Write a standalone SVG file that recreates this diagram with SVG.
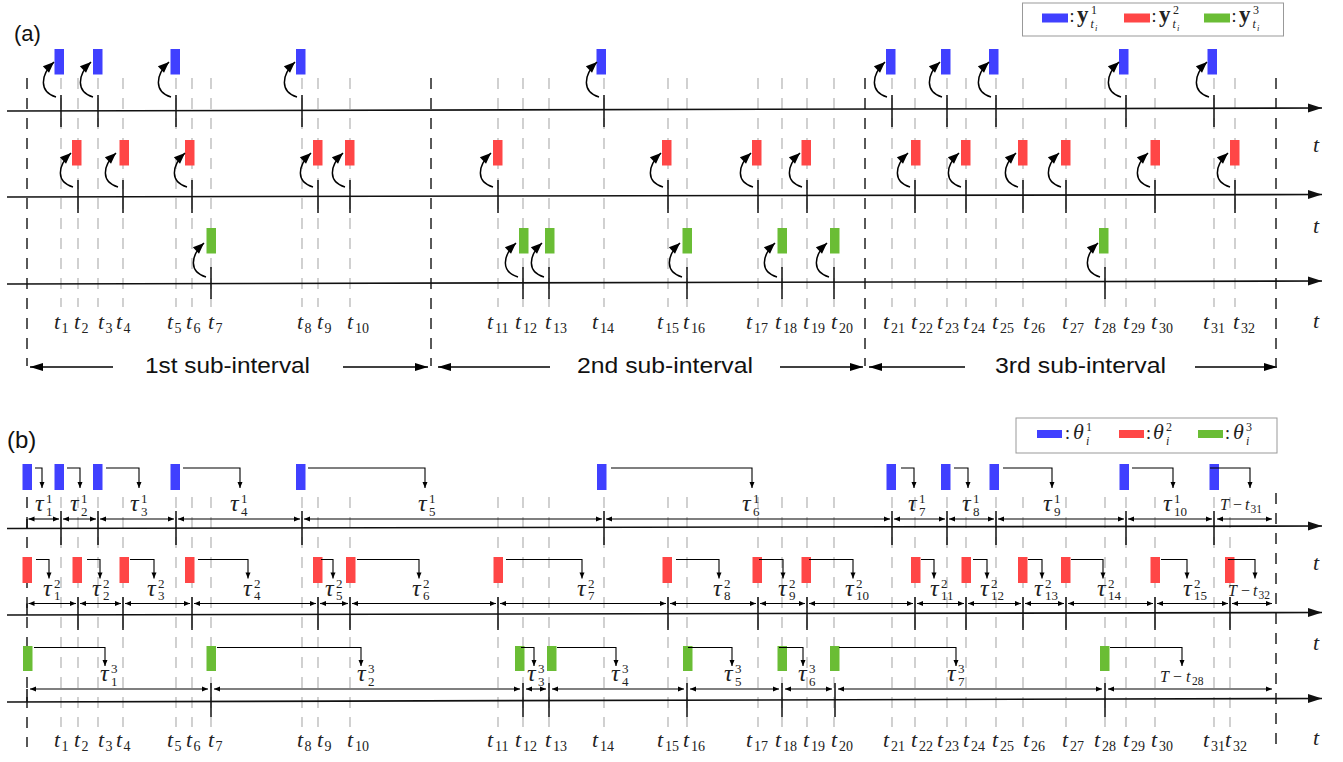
<svg xmlns="http://www.w3.org/2000/svg" width="1343" height="762" viewBox="0 0 1343 762">
<defs>
<style>
.ax{stroke:#111;stroke-width:1.6;fill:none;marker-end:url(#axh)}
.tk{stroke:#111;stroke-width:1.5;fill:none}
.gd{stroke:#b8b8b8;stroke-width:1.3;stroke-dasharray:11 9;fill:none}
.bd{stroke:#222;stroke-width:1.5;stroke-dasharray:11 9;fill:none}
.cv{fill:none;stroke:#000;stroke-width:1.5;marker-end:url(#cvh)}
.da{fill:none;stroke:#000;stroke-width:1.1;marker-end:url(#sm)}
.ia{fill:none;stroke:#000;stroke-width:1.1;marker-start:url(#sm);marker-end:url(#sm)}
.sa{stroke:#000;stroke-width:1.5;marker-end:url(#sah)}
.B{fill:#4040ff}
.R{fill:#ff4646}
.G{fill:#6abd35}
.tm{font-family:"Liberation Serif",serif;font-style:italic;font-size:22px;fill:#222}
.sb{font-style:normal;font-size:14px}
.tau{font-family:"Liberation Serif",serif;font-style:italic;font-size:24px;fill:#222}
.sp{font-style:normal;font-size:13px}
.tt{font-family:"Liberation Serif",serif;font-style:italic;font-size:16px;fill:#222}
.up{font-style:normal}
.s11{font-style:normal;font-size:11.5px}
.sans{font-family:"Liberation Sans",Arial,sans-serif;fill:#111}
.lg{font-family:"Liberation Serif",serif;fill:#222}
</style>
<marker id="axh" markerUnits="userSpaceOnUse" markerWidth="14" markerHeight="9" refX="14" refY="4.5" orient="auto" overflow="visible"><path d="M0,0 L14,4.5 L0,9 z" fill="#111"/></marker>
<marker id="cvh" markerUnits="userSpaceOnUse" markerWidth="12" markerHeight="10" refX="11" refY="5" orient="auto" overflow="visible"><path d="M0,0.5 L11,5 L0,9.5 z" fill="#000"/></marker>
<marker id="sah" markerUnits="userSpaceOnUse" markerWidth="13" markerHeight="8" refX="13" refY="4" orient="auto" overflow="visible"><path d="M0,0 L13,4 L0,8 z" fill="#000"/></marker>
<marker id="sm" markerUnits="userSpaceOnUse" markerWidth="6" markerHeight="5" refX="6" refY="2.5" orient="auto-start-reverse" overflow="visible"><path d="M0,0 L6,2.5 L0,5 z" fill="#000"/></marker>
</defs>
<rect width="1343" height="762" fill="#fff"/>

<g id="grid">
<path class="gd" d="M61,78V307M78,78V307M98,78V307M123,78V307M176,78V307M192,78V307M211,78V307M302,78V307M318,78V307M350,78V307M498,78V307M523,78V307M549,78V307M604,78V307M668,78V307M687,78V307M758,78V307M782,78V307M807,78V307M834,78V307M892,78V307M915,78V307M947,78V307M966,78V307M996,78V307M1023,78V307M1066,78V307M1105,78V307M1126,78V307M1155,78V307M1214,78V307M1235,78V307"/>
<path class="gd" d="M61,497V727M78,497V727M98,497V727M123,497V727M176,497V727M192,497V727M211,497V727M302,497V727M318,497V727M350,497V727M498,497V727M523,497V727M549,497V727M604,497V727M668,497V727M687,497V727M758,497V727M782,497V727M807,497V727M834,497V727M892,497V727M915,497V727M947,497V727M966,497V727M996,497V727M1023,497V727M1066,497V727M1105,497V727M1126,497V727M1155,497V727M1214,497V727M1230,497V727"/>
<path class="bd" d="M27,78V366M431,78V366M865,78V366M1276,78V366M27,497V747M1276,493V745"/>
</g>

<g id="axes">
<line class="ax" x1="7" y1="111" x2="1322" y2="108"/>
<line class="ax" x1="7" y1="197" x2="1322" y2="194.5"/>
<line class="ax" x1="7" y1="284" x2="1322" y2="281"/>
<line class="ax" x1="7" y1="528.5" x2="1322" y2="526"/>
<line class="ax" x1="7" y1="615" x2="1322" y2="612.5"/>
<line class="ax" x1="7" y1="702" x2="1322" y2="698.5"/>
</g>

<g id="ticks">
<path class="tk" d="M61,95V127M98,95V127M176,95V127M302,95V127M604,95V127M892,95V127M947,95V127M996,95V127M1126,95V127M1214,95V127"/>
<path class="tk" d="M78,180V213M123,180V213M192,180V213M318,180V213M350,180V213M498,180V213M668,180V213M758,180V213M807,180V213M915,180V213M966,180V213M1023,180V213M1066,180V213M1155,180V213M1235,180V213"/>
<path class="tk" d="M211,267V299M523,267V299M549,267V299M687,267V299M782,267V299M834,267V299M1105,267V299"/>
<path class="tk" d="M61,511V545M98,511V545M176,511V545M302,511V545M604,511V545M892,511V545M947,511V545M996,511V545M1126,511V545M1214,511V545M27,519V528.5"/>
<path class="tk" d="M78,597V630M123,597V630M192,597V630M318,597V630M350,597V630M498,597V630M668,597V630M758,597V630M807,597V630M915,597V630M966,597V630M1023,597V630M1066,597V630M1155,597V630M1230,597V630M27,603.5V615"/>
<path class="tk" d="M211,683V717M523,683V717M549,683V717M687,683V717M782,683V717M835,683V717M1105,683V717M27,689V702"/>
</g>

<g id="node-a-y1">
<rect class="B" x="54.5" y="49" width="9.5" height="25.5"/><rect class="B" x="93" y="49" width="9.5" height="25.5"/><rect class="B" x="170.5" y="49" width="9.5" height="25.5"/><rect class="B" x="296" y="49" width="9.5" height="25.5"/><rect class="B" x="596.5" y="49" width="9.5" height="25.5"/><rect class="B" x="886" y="49" width="9.5" height="25.5"/><rect class="B" x="941" y="49" width="9.5" height="25.5"/><rect class="B" x="989" y="49" width="9.5" height="25.5"/><rect class="B" x="1119" y="49" width="9.5" height="25.5"/><rect class="B" x="1207.5" y="49" width="9.5" height="25.5"/>
</g>
<g id="node-a-y2">
<rect class="R" x="72" y="140" width="9.5" height="25.5"/><rect class="R" x="119.5" y="140" width="9.5" height="25.5"/><rect class="R" x="185" y="140" width="9.5" height="25.5"/><rect class="R" x="313" y="140" width="9.5" height="25.5"/><rect class="R" x="345" y="140" width="9.5" height="25.5"/><rect class="R" x="493" y="140" width="9.5" height="25.5"/><rect class="R" x="662" y="140" width="9.5" height="25.5"/><rect class="R" x="752" y="140" width="9.5" height="25.5"/><rect class="R" x="801.5" y="140" width="9.5" height="25.5"/><rect class="R" x="911" y="140" width="9.5" height="25.5"/><rect class="R" x="961" y="140" width="9.5" height="25.5"/><rect class="R" x="1018" y="140" width="9.5" height="25.5"/><rect class="R" x="1061" y="140" width="9.5" height="25.5"/><rect class="R" x="1150.5" y="140" width="9.5" height="25.5"/><rect class="R" x="1230" y="140" width="9.5" height="25.5"/>
</g>
<g id="node-a-y3">
<rect class="G" x="206.5" y="228" width="9.5" height="25.5"/><rect class="G" x="519" y="228" width="9.5" height="25.5"/><rect class="G" x="545" y="228" width="9.5" height="25.5"/><rect class="G" x="682.5" y="228" width="9.5" height="25.5"/><rect class="G" x="777.5" y="228" width="9.5" height="25.5"/><rect class="G" x="830" y="228" width="9.5" height="25.5"/><rect class="G" x="1099" y="228" width="9.5" height="25.5"/>
</g>
<g id="node-b-theta1">
<rect class="B" x="22.5" y="464" width="9.5" height="26"/><rect class="B" x="54.5" y="464" width="9.5" height="26"/><rect class="B" x="93" y="464" width="9.5" height="26"/><rect class="B" x="170.5" y="464" width="9.5" height="26"/><rect class="B" x="296" y="464" width="9.5" height="26"/><rect class="B" x="597" y="464" width="9.5" height="26"/><rect class="B" x="886.5" y="464" width="9.5" height="26"/><rect class="B" x="941" y="464" width="9.5" height="26"/><rect class="B" x="989.5" y="464" width="9.5" height="26"/><rect class="B" x="1119.5" y="464" width="9.5" height="26"/><rect class="B" x="1209.5" y="464" width="9.5" height="26"/>
</g>
<g id="node-b-theta2">
<rect class="R" x="22.5" y="557" width="9.5" height="26"/><rect class="R" x="72.5" y="557" width="9.5" height="26"/><rect class="R" x="119.5" y="557" width="9.5" height="26"/><rect class="R" x="185" y="557" width="9.5" height="26"/><rect class="R" x="313" y="557" width="9.5" height="26"/><rect class="R" x="346" y="557" width="9.5" height="26"/><rect class="R" x="493.5" y="557" width="9.5" height="26"/><rect class="R" x="662.5" y="557" width="9.5" height="26"/><rect class="R" x="752.5" y="557" width="9.5" height="26"/><rect class="R" x="801.5" y="557" width="9.5" height="26"/><rect class="R" x="911" y="557" width="9.5" height="26"/><rect class="R" x="961.5" y="557" width="9.5" height="26"/><rect class="R" x="1018" y="557" width="9.5" height="26"/><rect class="R" x="1061" y="557" width="9.5" height="26"/><rect class="R" x="1150.5" y="557" width="9.5" height="26"/><rect class="R" x="1225" y="557" width="9.5" height="26"/>
</g>
<g id="node-b-theta3">
<rect class="G" x="23" y="646" width="9.5" height="25"/><rect class="G" x="206.5" y="646" width="9.5" height="25"/><rect class="G" x="515" y="646" width="9.5" height="25"/><rect class="G" x="547" y="646" width="9.5" height="25"/><rect class="G" x="683" y="646" width="9.5" height="25"/><rect class="G" x="777.5" y="646" width="9.5" height="25"/><rect class="G" x="830" y="646" width="9.5" height="25"/><rect class="G" x="1100" y="646" width="9.5" height="25"/>
</g>

<g id="connectors">
<path class="cv" d="M56,97C39,92 40,75 54,62"/><path class="cv" d="M93,97C76,92 77,75 91,62"/><path class="cv" d="M171,97C154,92 155,75 169,62"/><path class="cv" d="M297,97C280,92 281,75 295,62"/><path class="cv" d="M599,97C582,92 583,75 597,62"/><path class="cv" d="M887,97C870,92 871,75 885,62"/><path class="cv" d="M942,97C925,92 926,75 940,62"/><path class="cv" d="M991,97C974,92 975,75 989,62"/><path class="cv" d="M1121,97C1104,92 1105,75 1119,62"/><path class="cv" d="M1209,97C1192,92 1193,75 1207,62"/>
<path class="cv" d="M73,187C56,182 57,166 71,153"/><path class="cv" d="M118,187C101,182 102,166 116,153"/><path class="cv" d="M187,187C170,182 171,166 185,153"/><path class="cv" d="M313,187C296,182 297,166 311,153"/><path class="cv" d="M345,187C328,182 329,166 343,153"/><path class="cv" d="M493,187C476,182 477,166 491,153"/><path class="cv" d="M663,187C646,182 647,166 661,153"/><path class="cv" d="M753,187C736,182 737,166 751,153"/><path class="cv" d="M802,187C785,182 786,166 800,153"/><path class="cv" d="M910,187C893,182 894,166 908,153"/><path class="cv" d="M961,187C944,182 945,166 959,153"/><path class="cv" d="M1018,187C1001,182 1002,166 1016,153"/><path class="cv" d="M1061,187C1044,182 1045,166 1059,153"/><path class="cv" d="M1150,187C1133,182 1134,166 1148,153"/><path class="cv" d="M1230,187C1213,182 1214,166 1228,153"/>
<path class="cv" d="M206,277C189,272 190,256 204,243"/><path class="cv" d="M518,277C501,272 502,256 516,243"/><path class="cv" d="M544,277C527,272 528,256 542,243"/><path class="cv" d="M682,277C665,272 666,256 680,243"/><path class="cv" d="M777,277C760,272 761,256 775,243"/><path class="cv" d="M829,277C812,272 813,256 827,243"/><path class="cv" d="M1100,277C1083,272 1084,256 1098,243"/>

<line class="sa" x1="113" y1="367" x2="30" y2="367"/><line class="sa" x1="343" y1="367" x2="428" y2="367"/>
<line class="sa" x1="550" y1="367" x2="438" y2="367"/><line class="sa" x1="780" y1="367" x2="863" y2="367"/>
<line class="sa" x1="965" y1="367" x2="869" y2="367"/><line class="sa" x1="1195" y1="367" x2="1277" y2="367"/>

<path class="da" d="M35,468H42V488"/><path class="da" d="M67,468H80V488"/><path class="da" d="M106,468H139V488"/><path class="da" d="M183,468H240V488"/><path class="da" d="M308,468H425V488"/><path class="da" d="M611,468H752V488"/><path class="da" d="M901,468H914V488"/><path class="da" d="M954,468H968V488"/><path class="da" d="M1003,468H1052V488"/><path class="da" d="M1132,468H1173V488"/><path class="da" d="M1210,468H1250V488"/>
<path class="da" d="M36,559.5H49V578.5"/><path class="da" d="M87,559.5H100V578.5"/><path class="da" d="M130,559.5H154V578.5"/><path class="da" d="M198,559.5H248V578.5"/><path class="da" d="M321,559.5H333V578.5"/><path class="da" d="M357,559.5H419V578.5"/><path class="da" d="M506,559.5H582V578.5"/><path class="da" d="M676,559.5H719V578.5"/><path class="da" d="M759,559.5H783V578.5"/><path class="da" d="M809,559.5H853V578.5"/><path class="da" d="M921,559.5H934V578.5"/><path class="da" d="M973,559.5H987V578.5"/><path class="da" d="M1028,559.5H1042V578.5"/><path class="da" d="M1071,559.5H1103V578.5"/><path class="da" d="M1161,559.5H1187V578.5"/><path class="da" d="M1228,559.5H1255V578.5"/>
<path class="da" d="M34,647.5H105V666"/><path class="da" d="M217,647.5H361V666"/><path class="da" d="M521,647.5H534V666"/><path class="da" d="M557,647.5H616V666"/><path class="da" d="M688,647.5H732V666"/><path class="da" d="M779,647.5H803V666"/><path class="da" d="M839,647.5H956V666"/><path class="da" d="M1110,647.5H1182V666"/>

<line class="ia" x1="28.5" y1="519" x2="59" y2="519"/><line class="ia" x1="63" y1="519" x2="96" y2="519"/><line class="ia" x1="100" y1="519" x2="174" y2="519"/><line class="ia" x1="178" y1="519" x2="300" y2="519"/><line class="ia" x1="304" y1="519" x2="602" y2="519"/><line class="ia" x1="606" y1="519" x2="890" y2="519"/><line class="ia" x1="894" y1="519" x2="945" y2="519"/><line class="ia" x1="949" y1="519" x2="994" y2="519"/><line class="ia" x1="998" y1="519" x2="1124" y2="519"/><line class="ia" x1="1128" y1="519" x2="1212" y2="519"/><line class="ia" x1="1217" y1="519" x2="1272" y2="519"/>
<line class="ia" x1="28.5" y1="603.5" x2="76" y2="603.5"/><line class="ia" x1="80" y1="603.5" x2="121" y2="603.5"/><line class="ia" x1="125" y1="603.5" x2="190" y2="603.5"/><line class="ia" x1="194" y1="603.5" x2="316" y2="603.5"/><line class="ia" x1="320" y1="603.5" x2="348" y2="603.5"/><line class="ia" x1="352" y1="603.5" x2="496" y2="603.5"/><line class="ia" x1="500" y1="603.5" x2="666" y2="603.5"/><line class="ia" x1="670" y1="603.5" x2="756" y2="603.5"/><line class="ia" x1="760" y1="603.5" x2="805" y2="603.5"/><line class="ia" x1="809" y1="603.5" x2="913" y2="603.5"/><line class="ia" x1="917" y1="603.5" x2="964" y2="603.5"/><line class="ia" x1="968" y1="603.5" x2="1021" y2="603.5"/><line class="ia" x1="1025" y1="603.5" x2="1064" y2="603.5"/><line class="ia" x1="1068" y1="603.5" x2="1153" y2="603.5"/><line class="ia" x1="1157" y1="603.5" x2="1228" y2="603.5"/><line class="ia" x1="1232" y1="603.5" x2="1272" y2="603.5"/>
<line class="ia" x1="30" y1="689" x2="208" y2="689"/><line class="ia" x1="214" y1="689" x2="520" y2="689"/><line class="ia" x1="526" y1="689" x2="546" y2="689"/><line class="ia" x1="552" y1="689" x2="684" y2="689"/><line class="ia" x1="690" y1="689" x2="779" y2="689"/><line class="ia" x1="785" y1="689" x2="832" y2="689"/><line class="ia" x1="838" y1="689" x2="1102" y2="689"/><line class="ia" x1="1108" y1="689" x2="1272" y2="689"/>
</g>

<g id="legend-a">
<rect x="1022.5" y="3" width="261" height="33" fill="#fff" stroke="#999" stroke-width="1"/>
<rect class="B" x="1042" y="13.5" width="26" height="9"/><rect class="R" x="1124" y="13.5" width="26" height="9"/><rect class="G" x="1204" y="13.5" width="26" height="9"/>
<text class="lg" x="1069.5" y="22" font-size="18">:</text><text class="lg" x="1077" y="22" font-size="23" font-weight="bold">y</text><text class="lg" x="1091" y="14" font-size="12">1</text><text class="lg" x="1090.5" y="28" font-size="12" font-style="italic">t</text><text class="lg" x="1095" y="30.5" font-size="8.5" font-style="italic">i</text>
<text class="lg" x="1151.5" y="22" font-size="18">:</text><text class="lg" x="1159" y="22" font-size="23" font-weight="bold">y</text><text class="lg" x="1173" y="14" font-size="12">2</text><text class="lg" x="1172.5" y="28" font-size="12" font-style="italic">t</text><text class="lg" x="1177" y="30.5" font-size="8.5" font-style="italic">i</text>
<text class="lg" x="1231.5" y="22" font-size="18">:</text><text class="lg" x="1239" y="22" font-size="23" font-weight="bold">y</text><text class="lg" x="1253" y="14" font-size="12">3</text><text class="lg" x="1252.5" y="28" font-size="12" font-style="italic">t</text><text class="lg" x="1257" y="30.5" font-size="8.5" font-style="italic">i</text>
</g>
<g id="legend-b">
<rect x="1016" y="418" width="261" height="35" fill="#fff" stroke="#999" stroke-width="1"/>
<rect class="B" x="1037" y="430" width="25" height="8"/><rect class="R" x="1119" y="430" width="25" height="8"/><rect class="G" x="1198" y="430" width="25" height="8"/>
<text class="lg" x="1065" y="439" font-size="18">:</text><text class="lg" x="1073" y="439" font-size="22" font-style="italic">θ</text><text class="lg" x="1086" y="431" font-size="12">1</text><text class="lg" x="1086" y="445" font-size="12" font-style="italic">i</text>
<text class="lg" x="1146" y="439" font-size="18">:</text><text class="lg" x="1153" y="439" font-size="22" font-style="italic">θ</text><text class="lg" x="1166" y="431" font-size="12">2</text><text class="lg" x="1166" y="445" font-size="12" font-style="italic">i</text>
<text class="lg" x="1225" y="439" font-size="18">:</text><text class="lg" x="1233" y="439" font-size="22" font-style="italic">θ</text><text class="lg" x="1246" y="431" font-size="12">3</text><text class="lg" x="1246" y="445" font-size="12" font-style="italic">i</text>
</g>

<g id="labels">
<text class="sans" x="14" y="40.5" font-size="22">(a)</text>
<text class="sans" x="7" y="448" font-size="24">(b)</text>
<text class="sans" x="145" y="373" font-size="22" textLength="165" lengthAdjust="spacingAndGlyphs">1st sub-interval</text>
<text class="sans" x="577" y="373" font-size="22" textLength="176" lengthAdjust="spacingAndGlyphs">2nd sub-interval</text>
<text class="sans" x="995" y="373" font-size="22" textLength="171" lengthAdjust="spacingAndGlyphs">3rd sub-interval</text>

<text class="tm" x="1313" y="152">t</text><text class="tm" x="1313" y="233">t</text><text class="tm" x="1313" y="328">t</text>
<text class="tm" x="1313" y="570">t</text><text class="tm" x="1313" y="650">t</text><text class="tm" x="1313" y="745">t</text>

<text class="tm" x="54" y="329">t<tspan class="sb" x="61.5" y="333">1</tspan></text>
<text class="tm" x="74" y="329">t<tspan class="sb" x="81.5" y="333">2</tspan></text>
<text class="tm" x="98" y="329">t<tspan class="sb" x="105.5" y="333">3</tspan></text>
<text class="tm" x="116" y="329">t<tspan class="sb" x="123.5" y="333">4</tspan></text>
<text class="tm" x="167" y="329">t<tspan class="sb" x="174.5" y="333">5</tspan></text>
<text class="tm" x="186" y="329">t<tspan class="sb" x="193.5" y="333">6</tspan></text>
<text class="tm" x="208" y="329">t<tspan class="sb" x="215.5" y="333">7</tspan></text>
<text class="tm" x="297" y="329">t<tspan class="sb" x="304.5" y="333">8</tspan></text>
<text class="tm" x="317" y="329">t<tspan class="sb" x="324.5" y="333">9</tspan></text>
<text class="tm" x="347" y="329">t<tspan class="sb" x="355" y="333">10</tspan></text>
<text class="tm" x="487" y="329">t<tspan class="sb" x="495" y="333">11</tspan></text>
<text class="tm" x="515" y="329">t<tspan class="sb" x="523" y="333">12</tspan></text>
<text class="tm" x="545" y="329">t<tspan class="sb" x="553" y="333">13</tspan></text>
<text class="tm" x="592" y="329">t<tspan class="sb" x="600" y="333">14</tspan></text>
<text class="tm" x="657" y="329">t<tspan class="sb" x="665" y="333">15</tspan></text>
<text class="tm" x="683" y="329">t<tspan class="sb" x="691" y="333">16</tspan></text>
<text class="tm" x="746" y="329">t<tspan class="sb" x="754" y="333">17</tspan></text>
<text class="tm" x="775" y="329">t<tspan class="sb" x="783" y="333">18</tspan></text>
<text class="tm" x="803" y="329">t<tspan class="sb" x="811" y="333">19</tspan></text>
<text class="tm" x="831" y="329">t<tspan class="sb" x="839" y="333">20</tspan></text>
<text class="tm" x="883" y="329">t<tspan class="sb" x="891" y="333">21</tspan></text>
<text class="tm" x="911" y="329">t<tspan class="sb" x="919" y="333">22</tspan></text>
<text class="tm" x="937" y="329">t<tspan class="sb" x="945" y="333">23</tspan></text>
<text class="tm" x="963" y="329">t<tspan class="sb" x="971" y="333">24</tspan></text>
<text class="tm" x="992" y="329">t<tspan class="sb" x="1000" y="333">25</tspan></text>
<text class="tm" x="1023" y="329">t<tspan class="sb" x="1031" y="333">26</tspan></text>
<text class="tm" x="1062" y="329">t<tspan class="sb" x="1070" y="333">27</tspan></text>
<text class="tm" x="1094" y="329">t<tspan class="sb" x="1102" y="333">28</tspan></text>
<text class="tm" x="1123" y="329">t<tspan class="sb" x="1131" y="333">29</tspan></text>
<text class="tm" x="1151" y="329">t<tspan class="sb" x="1159" y="333">30</tspan></text>
<text class="tm" x="1203" y="329">t<tspan class="sb" x="1211" y="333">31</tspan></text>
<text class="tm" x="1233" y="329">t<tspan class="sb" x="1241" y="333">32</tspan></text>

<text class="tm" x="54" y="747">t<tspan class="sb" x="61.5" y="751">1</tspan></text>
<text class="tm" x="74" y="747">t<tspan class="sb" x="81.5" y="751">2</tspan></text>
<text class="tm" x="98" y="747">t<tspan class="sb" x="105.5" y="751">3</tspan></text>
<text class="tm" x="116" y="747">t<tspan class="sb" x="123.5" y="751">4</tspan></text>
<text class="tm" x="167" y="747">t<tspan class="sb" x="174.5" y="751">5</tspan></text>
<text class="tm" x="186" y="747">t<tspan class="sb" x="193.5" y="751">6</tspan></text>
<text class="tm" x="208" y="747">t<tspan class="sb" x="215.5" y="751">7</tspan></text>
<text class="tm" x="297" y="747">t<tspan class="sb" x="304.5" y="751">8</tspan></text>
<text class="tm" x="317" y="747">t<tspan class="sb" x="324.5" y="751">9</tspan></text>
<text class="tm" x="347" y="747">t<tspan class="sb" x="355" y="751">10</tspan></text>
<text class="tm" x="487" y="747">t<tspan class="sb" x="495" y="751">11</tspan></text>
<text class="tm" x="515" y="747">t<tspan class="sb" x="523" y="751">12</tspan></text>
<text class="tm" x="545" y="747">t<tspan class="sb" x="553" y="751">13</tspan></text>
<text class="tm" x="592" y="747">t<tspan class="sb" x="600" y="751">14</tspan></text>
<text class="tm" x="657" y="747">t<tspan class="sb" x="665" y="751">15</tspan></text>
<text class="tm" x="683" y="747">t<tspan class="sb" x="691" y="751">16</tspan></text>
<text class="tm" x="746" y="747">t<tspan class="sb" x="754" y="751">17</tspan></text>
<text class="tm" x="775" y="747">t<tspan class="sb" x="783" y="751">18</tspan></text>
<text class="tm" x="803" y="747">t<tspan class="sb" x="811" y="751">19</tspan></text>
<text class="tm" x="831" y="747">t<tspan class="sb" x="839" y="751">20</tspan></text>
<text class="tm" x="883" y="747">t<tspan class="sb" x="891" y="751">21</tspan></text>
<text class="tm" x="911" y="747">t<tspan class="sb" x="919" y="751">22</tspan></text>
<text class="tm" x="937" y="747">t<tspan class="sb" x="945" y="751">23</tspan></text>
<text class="tm" x="963" y="747">t<tspan class="sb" x="971" y="751">24</tspan></text>
<text class="tm" x="992" y="747">t<tspan class="sb" x="1000" y="751">25</tspan></text>
<text class="tm" x="1023" y="747">t<tspan class="sb" x="1031" y="751">26</tspan></text>
<text class="tm" x="1062" y="747">t<tspan class="sb" x="1070" y="751">27</tspan></text>
<text class="tm" x="1094" y="747">t<tspan class="sb" x="1102" y="751">28</tspan></text>
<text class="tm" x="1123" y="747">t<tspan class="sb" x="1131" y="751">29</tspan></text>
<text class="tm" x="1151" y="747">t<tspan class="sb" x="1159" y="751">30</tspan></text>
<text class="tm" x="1203" y="747">t<tspan class="sb" x="1211" y="751">31</tspan></text>
<text class="tm" x="1225" y="747">t<tspan class="sb" x="1233" y="751">32</tspan></text>

<text class="tau" x="35" y="511">τ<tspan class="sp" x="46" y="503">1</tspan><tspan class="sp" x="46" y="515.5">1</tspan></text>
<text class="tau" x="70" y="511">τ<tspan class="sp" x="81" y="503">1</tspan><tspan class="sp" x="81" y="515.5">2</tspan></text>
<text class="tau" x="130" y="511">τ<tspan class="sp" x="141" y="503">1</tspan><tspan class="sp" x="141" y="515.5">3</tspan></text>
<text class="tau" x="230" y="511">τ<tspan class="sp" x="241" y="503">1</tspan><tspan class="sp" x="241" y="515.5">4</tspan></text>
<text class="tau" x="418" y="511">τ<tspan class="sp" x="429" y="503">1</tspan><tspan class="sp" x="429" y="515.5">5</tspan></text>
<text class="tau" x="742" y="511">τ<tspan class="sp" x="753" y="503">1</tspan><tspan class="sp" x="753" y="515.5">6</tspan></text>
<text class="tau" x="908" y="511">τ<tspan class="sp" x="919" y="503">1</tspan><tspan class="sp" x="919" y="515.5">7</tspan></text>
<text class="tau" x="962" y="511">τ<tspan class="sp" x="973" y="503">1</tspan><tspan class="sp" x="973" y="515.5">8</tspan></text>
<text class="tau" x="1043" y="511">τ<tspan class="sp" x="1054" y="503">1</tspan><tspan class="sp" x="1054" y="515.5">9</tspan></text>
<text class="tau" x="1163" y="511">τ<tspan class="sp" x="1174" y="503">1</tspan><tspan class="sp" x="1174" y="515.5">10</tspan></text>
<text class="tt" x="1220" y="510">T<tspan class="up" x="1233">−</tspan><tspan x="1245">t</tspan><tspan class="s11" x="1250.5" y="513">31</tspan></text>

<text class="tau" x="43" y="595.5">τ<tspan class="sp" x="54" y="587.5">2</tspan><tspan class="sp" x="54" y="600">1</tspan></text>
<text class="tau" x="92" y="595.5">τ<tspan class="sp" x="103" y="587.5">2</tspan><tspan class="sp" x="103" y="600">2</tspan></text>
<text class="tau" x="147" y="595.5">τ<tspan class="sp" x="158" y="587.5">2</tspan><tspan class="sp" x="158" y="600">3</tspan></text>
<text class="tau" x="243" y="595.5">τ<tspan class="sp" x="254" y="587.5">2</tspan><tspan class="sp" x="254" y="600">4</tspan></text>
<text class="tau" x="325" y="595.5">τ<tspan class="sp" x="336" y="587.5">2</tspan><tspan class="sp" x="336" y="600">5</tspan></text>
<text class="tau" x="412" y="595.5">τ<tspan class="sp" x="423" y="587.5">2</tspan><tspan class="sp" x="423" y="600">6</tspan></text>
<text class="tau" x="577" y="595.5">τ<tspan class="sp" x="588" y="587.5">2</tspan><tspan class="sp" x="588" y="600">7</tspan></text>
<text class="tau" x="713" y="595.5">τ<tspan class="sp" x="724" y="587.5">2</tspan><tspan class="sp" x="724" y="600">8</tspan></text>
<text class="tau" x="778" y="595.5">τ<tspan class="sp" x="789" y="587.5">2</tspan><tspan class="sp" x="789" y="600">9</tspan></text>
<text class="tau" x="845" y="595.5">τ<tspan class="sp" x="856" y="587.5">2</tspan><tspan class="sp" x="856" y="600">10</tspan></text>
<text class="tau" x="930" y="595.5">τ<tspan class="sp" x="941" y="587.5">2</tspan><tspan class="sp" x="941" y="600">11</tspan></text>
<text class="tau" x="980" y="595.5">τ<tspan class="sp" x="991" y="587.5">2</tspan><tspan class="sp" x="991" y="600">12</tspan></text>
<text class="tau" x="1034" y="595.5">τ<tspan class="sp" x="1045" y="587.5">2</tspan><tspan class="sp" x="1045" y="600">13</tspan></text>
<text class="tau" x="1097" y="595.5">τ<tspan class="sp" x="1108" y="587.5">2</tspan><tspan class="sp" x="1108" y="600">14</tspan></text>
<text class="tau" x="1183" y="595.5">τ<tspan class="sp" x="1194" y="587.5">2</tspan><tspan class="sp" x="1194" y="600">15</tspan></text>
<text class="tt" x="1228" y="596">T<tspan class="up" x="1241">−</tspan><tspan x="1253">t</tspan><tspan class="s11" x="1258.5" y="599">32</tspan></text>

<text class="tau" x="100" y="681">τ<tspan class="sp" x="111" y="673">3</tspan><tspan class="sp" x="111" y="685.5">1</tspan></text>
<text class="tau" x="357" y="681">τ<tspan class="sp" x="368" y="673">3</tspan><tspan class="sp" x="368" y="685.5">2</tspan></text>
<text class="tau" x="527" y="681">τ<tspan class="sp" x="538" y="673">3</tspan><tspan class="sp" x="538" y="685.5">3</tspan></text>
<text class="tau" x="611" y="681">τ<tspan class="sp" x="622" y="673">3</tspan><tspan class="sp" x="622" y="685.5">4</tspan></text>
<text class="tau" x="724" y="681">τ<tspan class="sp" x="735" y="673">3</tspan><tspan class="sp" x="735" y="685.5">5</tspan></text>
<text class="tau" x="798" y="681">τ<tspan class="sp" x="809" y="673">3</tspan><tspan class="sp" x="809" y="685.5">6</tspan></text>
<text class="tau" x="947" y="681">τ<tspan class="sp" x="958" y="673">3</tspan><tspan class="sp" x="958" y="685.5">7</tspan></text>
<text class="tt" x="1160" y="682">T<tspan class="up" x="1173">−</tspan><tspan x="1186">t</tspan><tspan class="s11" x="1192" y="685">28</tspan></text>
</g>
</svg>
